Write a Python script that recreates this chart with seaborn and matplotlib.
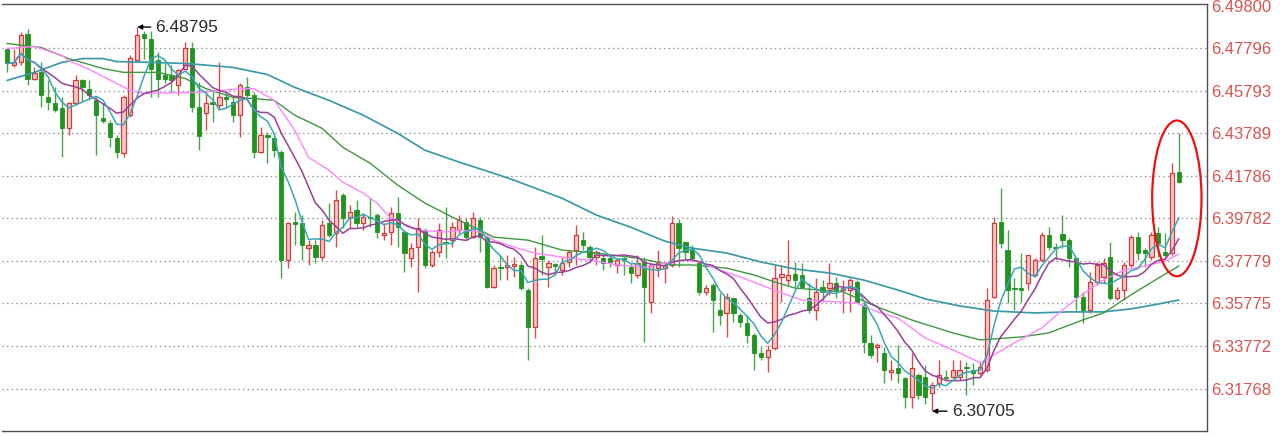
import numpy as np
import pandas as pd
import matplotlib
matplotlib.use("Agg")
import matplotlib.pyplot as plt
from matplotlib.patches import Ellipse
import seaborn as sns

# ---------------- data ----------------
opens = [
    6.4778, 6.4699, 6.4713, 6.4849, 6.4637, 6.4666, 6.4548, 6.4520, 6.4496, 6.4402,
    6.4520, 6.4628, 6.4590, 6.4534, 6.4449, 6.4426, 6.4355, 6.4285, 6.4464, 6.4722,
    6.4849, 6.4825, 6.4722, 6.4652, 6.4652, 6.4605, 6.4684, 6.4783, 6.4501, 6.4473,
    6.4525, 6.4511, 6.4548, 6.4525, 6.4464, 6.4595, 6.4558, 6.4290, 6.4370, 6.4355,
    6.4290, 6.3782, 6.3961, 6.3956, 6.3838, 6.3853, 6.3796, 6.3956, 6.3909, 6.4088,
    6.3984, 6.4017, 6.3956, 6.3984, 6.3994, 6.3900, 6.3914, 6.4003, 6.3914, 6.3791,
    6.3843, 6.3923, 6.3759, 6.3820, 6.3867, 6.3876, 6.3923, 6.3961, 6.3890, 6.3970,
    6.3890, 6.3655, 6.3749, 6.3749, 6.3754, 6.3759, 6.3641, 6.3467, 6.3801, 6.3749,
    6.3763, 6.3735, 6.3773, 6.3829, 6.3876, 6.3843, 6.3796, 6.3791, 6.3791, 6.3759,
    6.3791, 6.3749, 6.3712, 6.3773, 6.3585, 6.3744, 6.3744, 6.3759, 6.3956, 6.3867,
    6.3834, 6.3768, 6.3632, 6.3665, 6.3547, 6.3533, 6.3603, 6.3524, 6.3486, 6.3430,
    6.3345, 6.3326, 6.3368, 6.3702, 6.3688, 6.3716, 6.3712, 6.3603, 6.3547, 6.3655,
    6.3650, 6.3674, 6.3641, 6.3641, 6.3679, 6.3571, 6.3392, 6.3373, 6.3345, 6.3256,
    6.3274, 6.3227, 6.3138, 6.3242, 6.3232, 6.3157, 6.3204, 6.3232, 6.3232, 6.3232,
    6.3279, 6.3265, 6.3251, 6.3265, 6.3608, 6.3961, 6.3829, 6.3650, 6.3650, 6.3674,
    6.3712, 6.3782, 6.3900, 6.3843, 6.3904, 6.3876, 6.3791, 6.3608, 6.3547, 6.3679,
    6.3702, 6.3796, 6.3603, 6.3641, 6.3759, 6.3890, 6.3829, 6.3796, 6.3909, 6.3820,
    6.3815, 6.4196,
]
highs = [
    6.4783, 6.4778, 6.4858, 6.4872, 6.4689, 6.4713, 6.4628, 6.4595, 6.4548, 6.4525,
    6.4652, 6.4637, 6.4628, 6.4548, 6.4520, 6.4440, 6.4370, 6.4558, 6.4746, 6.48795,
    6.4862, 6.4860, 6.4760, 6.4708, 6.4699, 6.4684, 6.4807, 6.4807, 6.4619, 6.4581,
    6.4581, 6.4713, 6.4572, 6.4548, 6.4614, 6.4642, 6.4572, 6.4407, 6.4384, 6.4370,
    6.4299, 6.3961, 6.4008, 6.3994, 6.3876, 6.3876, 6.3970, 6.4050, 6.4111, 6.4097,
    6.4041, 6.4064, 6.4003, 6.4073, 6.4003, 6.3956, 6.4031, 6.4078, 6.3923, 6.3862,
    6.3979, 6.3932, 6.3829, 6.3956, 6.4031, 6.3961, 6.3994, 6.3979, 6.4008, 6.3984,
    6.3900, 6.3759, 6.3806, 6.3806, 6.3796, 6.3773, 6.3650, 6.3843, 6.3900, 6.3782,
    6.3768, 6.3796, 6.3829, 6.3947, 6.3914, 6.3853, 6.3829, 6.3815, 6.3806, 6.3791,
    6.3796, 6.3768, 6.3806, 6.3796, 6.3768, 6.3829, 6.3773, 6.3989, 6.3975, 6.3870,
    6.3853, 6.3773, 6.3665, 6.3674, 6.3627, 6.3627, 6.3608, 6.3533, 6.3524, 6.3439,
    6.3373, 6.3383, 6.3759, 6.3759, 6.3876, 6.3773, 6.3768, 6.3674, 6.3697, 6.3688,
    6.3768, 6.3702, 6.3688, 6.3697, 6.3688, 6.3580, 6.3430, 6.3392, 6.3373, 6.3312,
    6.3383, 6.3232, 6.3345, 6.3251, 6.3289, 6.3209, 6.3312, 6.3265, 6.3312, 6.3312,
    6.3303, 6.3298, 6.3303, 6.3650, 6.3984, 6.4120, 6.3923, 6.3697, 6.3815, 6.3808,
    6.3791, 6.3914, 6.3937, 6.3862, 6.3994, 6.3885, 6.3796, 6.3632, 6.3726, 6.3773,
    6.3791, 6.3867, 6.3655, 6.3773, 6.3900, 6.3914, 6.3838, 6.3914, 6.3937, 6.3909,
    6.4238, 6.4379,
]
lows = [
    6.4666, 6.4689, 6.4703, 6.4605, 6.4628, 6.4501, 6.4487, 6.4478, 6.4266, 6.4370,
    6.4511, 6.4525, 6.4534, 6.4276, 6.4426, 6.4313, 6.4261, 6.4266, 6.4454, 6.4718,
    6.4731, 6.4548, 6.4548, 6.4614, 6.4572, 6.4558, 6.4675, 6.4478, 6.4299, 6.4393,
    6.4431, 6.4487, 6.4496, 6.4431, 6.4360, 6.4548, 6.4261, 6.4285, 6.4238, 6.4266,
    6.3697, 6.3744, 6.3853, 6.3782, 6.3759, 6.3768, 6.3782, 6.3890, 6.3843, 6.3932,
    6.3932, 6.3937, 6.3923, 6.3937, 6.3885, 6.3876, 6.3853, 6.3843, 6.3726, 6.3749,
    6.3632, 6.3744, 6.3749, 6.3796, 6.3791, 6.3843, 6.3909, 6.3876, 6.3885, 6.3820,
    6.3650, 6.3650, 6.3688, 6.3688, 6.3702, 6.3641, 6.3312, 6.3415, 6.3712, 6.3655,
    6.3712, 6.3712, 6.3749, 6.3759, 6.3829, 6.3773, 6.3759, 6.3735, 6.3749, 6.3721,
    6.3712, 6.3674, 6.3697, 6.3397, 6.3533, 6.3702, 6.3674, 6.3749, 6.3749, 6.3782,
    6.3782, 6.3618, 6.3618, 6.3444, 6.3477, 6.3420, 6.3491, 6.3467, 6.3392, 6.3265,
    6.3312, 6.3256, 6.3359, 6.3585, 6.3665, 6.3655, 6.3650, 6.3533, 6.3500, 6.3585,
    6.3618, 6.3603, 6.3533, 6.3538, 6.3580, 6.3345, 6.3321, 6.3303, 6.3204, 6.3218,
    6.3204, 6.3087, 6.3087, 6.3129, 6.3106, 6.30705, 6.3185, 6.3218, 6.3227, 6.3218,
    6.3148, 6.3195, 6.3242, 6.3256, 6.3604, 6.3838, 6.3580, 6.3547, 6.3585, 6.3641,
    6.3702, 6.3773, 6.3829, 6.3782, 6.3838, 6.3749, 6.3547, 6.3486, 6.3533, 6.3665,
    6.3674, 6.3594, 6.3594, 6.3594, 6.3749, 6.3782, 6.3749, 6.3782, 6.3796, 6.3796,
    6.3806, 6.4147,
]
closes = [
    6.4708, 6.4713, 6.4844, 6.4637, 6.4661, 6.4558, 6.4525, 6.4487, 6.4402, 6.4520,
    6.4628, 6.4595, 6.4558, 6.4464, 6.4435, 6.4360, 6.4290, 6.4548, 6.4736, 6.4840,
    6.4830, 6.4684, 6.4637, 6.4637, 6.4628, 6.4675, 6.4783, 6.4501, 6.4365, 6.4520,
    6.4515, 6.4548, 6.4539, 6.4464, 6.4605, 6.4558, 6.4290, 6.4370, 6.4360, 6.4299,
    6.3782, 6.3956, 6.3951, 6.3853, 6.3853, 6.3796, 6.3947, 6.3900, 6.4064, 6.3979,
    6.4008, 6.3956, 6.3984, 6.3979, 6.3914, 6.3909, 6.4003, 6.3937, 6.3815, 6.3838,
    6.3932, 6.3759, 6.3820, 6.3923, 6.3862, 6.3937, 6.3970, 6.3890, 6.3979, 6.3890,
    6.3655, 6.3744, 6.3744, 6.3759, 6.3763, 6.3650, 6.3467, 6.3791, 6.3787, 6.3768,
    6.3754, 6.3768, 6.3820, 6.3900, 6.3853, 6.3796, 6.3820, 6.3768, 6.3773, 6.3782,
    6.3782, 6.3721, 6.3768, 6.3655, 6.3759, 6.3768, 6.3759, 6.3956, 6.3838, 6.3820,
    6.3791, 6.3632, 6.3650, 6.3594, 6.3524, 6.3608, 6.3533, 6.3491, 6.3430, 6.3345,
    6.3326, 6.3359, 6.3697, 6.3716, 6.3712, 6.3688, 6.3655, 6.3547, 6.3632, 6.3632,
    6.3674, 6.3641, 6.3650, 6.3688, 6.3585, 6.3397, 6.3336, 6.3383, 6.3265, 6.3265,
    6.3251, 6.3138, 6.3274, 6.3148, 6.3138, 6.3195, 6.3242, 6.3227, 6.3265, 6.3265,
    6.3274, 6.3251, 6.3279, 6.3594, 6.3956, 6.3862, 6.3641, 6.3646, 6.3641, 6.3806,
    6.3782, 6.3900, 6.3843, 6.3838, 6.3876, 6.3791, 6.3608, 6.3547, 6.3679, 6.3759,
    6.3768, 6.3603, 6.3641, 6.3759, 6.3890, 6.3815, 6.3815, 6.3900, 6.3862, 6.3806,
    6.4191, 6.4149,
]

# slower moving averages (candle index, value)
ma20_idx = [0, 4, 8, 9, 12, 16, 18, 20, 28, 33, 36, 39, 42, 44, 47, 49, 52, 54, 56,
            60, 64, 66, 69, 71, 74, 77, 81, 86, 89, 93, 96, 99, 101, 104, 107, 110,
            113, 116, 124, 127, 130, 132, 134, 137, 139, 142, 147, 151, 154, 157,
            160, 163, 166, 169, 171]
ma20_val = [6.4778, 6.4788, 6.4746, 6.4722, 6.4680, 6.4614, 6.4581, 6.4567, 6.4572,
            6.4586, 6.4590, 6.4534, 6.4393, 6.4266, 6.4205, 6.4149, 6.4097, 6.4050,
            6.3979, 6.3923, 6.3914, 6.3923, 6.3914, 6.3876, 6.3843, 6.3815, 6.3796,
            6.3777, 6.3759, 6.3749, 6.3768, 6.3782, 6.3773, 6.3735, 6.3702, 6.3665,
            6.3627, 6.3594, 6.3580, 6.3538, 6.3509, 6.3462, 6.3415, 6.3373, 6.3345,
            6.3298, 6.3392, 6.3462, 6.3547, 6.3622, 6.3688, 6.3735, 6.3754, 6.3777,
            6.3810]
ma30_idx = [0, 5, 9, 14, 17, 22, 26, 29, 33, 36, 39, 42, 46, 49, 53, 57, 61, 65, 69,
            71, 76, 81, 86, 92, 97, 100, 105, 109, 112, 115, 122, 127, 132, 138, 142,
            148, 152, 157, 160, 164, 168, 171]
ma30_val = [6.4802, 6.4783, 6.4731, 6.4684, 6.4666, 6.4666, 6.4637, 6.4590, 6.4548,
            6.4543, 6.4534, 6.4464, 6.4402, 6.4313, 6.4238, 6.4135, 6.4050, 6.3984,
            6.3923, 6.3890, 6.3876, 6.3829, 6.3815, 6.3791, 6.3759, 6.3759, 6.3744,
            6.3712, 6.3679, 6.3650, 6.3632, 6.3561, 6.3500, 6.3439, 6.3406, 6.3420,
            6.3439, 6.3500, 6.3533, 6.3618, 6.3697, 6.3754]
ma60_idx = [0, 4, 8, 11, 14, 16, 21, 26, 28, 33, 38, 42, 47, 52, 57, 61, 66, 71, 74,
            81, 86, 91, 96, 100, 105, 110, 115, 120, 125, 130, 134, 139, 144, 150,
            155, 160, 164, 168, 171]
ma60_val = [6.4628, 6.4666, 6.4713, 6.4731, 6.4731, 6.4717, 6.4713, 6.4708, 6.4703,
            6.4689, 6.4656, 6.4595, 6.4534, 6.4464, 6.4379, 6.4299, 6.4243, 6.4191,
            6.4158, 6.4073, 6.3994, 6.3937, 6.3871, 6.3838, 6.3815, 6.3773, 6.3740,
            6.3721, 6.3688, 6.3641, 6.3599, 6.3566, 6.3542, 6.3533, 6.3538, 6.3538,
            6.3552, 6.3575, 6.3594]

tick_vals = [6.49800, 6.47796, 6.45793, 6.43789, 6.41786,
             6.39782, 6.37779, 6.35775, 6.33772, 6.31768]
high_label = "6.48795"
low_label = "6.30705"

# ---------------- style ----------------
sns.set_theme(style="white")
plt.rcParams["font.family"] = ["Liberation Sans", "DejaVu Sans"]

RED_EDGE = "#d43a3a"
RED_FILL = "#f6c8c8"
RED_WICK = "#d94a4a"
GREEN_BODY = "#1f941f"
GREEN_WICK = "#45a845"
TICK_RED = "#d9534f"

df = pd.DataFrame({"idx": np.arange(len(closes)), "open": opens, "high": highs,
                   "low": lows, "close": closes})
df["ma5"] = df["close"].rolling(5, min_periods=1).mean()
df["ma10"] = df["close"].rolling(10, min_periods=1).mean()
up = (df["close"] >= df["open"]).to_numpy()
x = df["idx"].to_numpy()
o = df["open"].to_numpy(); c = df["close"].to_numpy()
h = df["high"].to_numpy(); l = df["low"].to_numpy()
body_lo = np.minimum(o, c)
body_h = np.maximum(np.abs(c - o), 0.00028)

fig = plt.figure(figsize=(12.8, 4.36), dpi=100)
ax = fig.add_axes([2 / 1280, 5 / 436, 1205 / 1280, 427 / 436])

for v in tick_vals[1:]:
    ax.axhline(v, color="#8c8c8c", lw=0.9, ls=(0, (1.1, 2.6)), zorder=0)

ax.vlines(x[up], l[up], h[up], color=RED_WICK, lw=1.0, zorder=2)
ax.vlines(x[~up], l[~up], h[~up], color=GREEN_WICK, lw=1.0, zorder=2)
ax.bar(x[up], body_h[up], bottom=body_lo[up], width=0.62, facecolor=RED_FILL,
       edgecolor=RED_EDGE, linewidth=0.9, zorder=3)
ax.bar(x[~up], body_h[~up], bottom=body_lo[~up], width=0.62, facecolor=GREEN_BODY,
       edgecolor=GREEN_BODY, linewidth=0.6, zorder=3)

sns.lineplot(x=ma60_idx, y=ma60_val, ax=ax, color="#3b9aa7", linewidth=1.25, zorder=4)
sns.lineplot(x=ma30_idx, y=ma30_val, ax=ax, color="#3f983f", linewidth=1.0, zorder=4)
sns.lineplot(x=ma20_idx, y=ma20_val, ax=ax, color="#ff85ff", linewidth=1.0, zorder=4)
sns.lineplot(data=df, x="idx", y="ma10", ax=ax, color="#9a3f9a", linewidth=1.1, zorder=5)
sns.lineplot(data=df, x="idx", y="ma5", ax=ax, color="#3aa6b6", linewidth=1.1, zorder=5)

# extreme annotations
hi_i = int(np.argmax(h)); lo_i = int(np.argmin(l))
ax.annotate(high_label, xy=(hi_i, h[hi_i]), xytext=(13, 0), textcoords="offset points",
            ha="left", va="center", fontsize=12.5, color="#2a2a2a",
            arrowprops=dict(arrowstyle="-|>", color="black", lw=1.0,
                            mutation_scale=7, shrinkA=1, shrinkB=0), zorder=6)
ax.annotate(low_label, xy=(lo_i, l[lo_i]), xytext=(14, 0), textcoords="offset points",
            ha="left", va="center", fontsize=12.5, color="#2a2a2a",
            arrowprops=dict(arrowstyle="-|>", color="black", lw=1.0,
                            mutation_scale=7, shrinkA=1, shrinkB=0), zorder=6)

# red highlight ellipse around the last two candles
last_hi = max(highs[-2:]); last_lo = min(lows[-2:])
ell = Ellipse((len(closes) - 1.3, (last_hi + last_lo) / 2 - 0.0020), width=7.2,
              height=(last_hi - last_lo) * 1.28, fill=False, edgecolor="#ee1111",
              linewidth=1.6, zorder=7)
ax.add_patch(ell)

ax.set_xlim(-0.73, 175.1)
ax.set_ylim(6.2977, 6.4988)
ax.set_xticks([])
ax.yaxis.tick_right()
ax.set_yticks(tick_vals)
ax.set_yticklabels([f"{v:.5f}" for v in tick_vals])
ax.tick_params(axis="y", length=0, pad=3, labelsize=12, labelcolor=TICK_RED)
ax.set_xlabel("")
ax.set_ylabel("")
for side in ["top", "right", "bottom"]:
    ax.spines[side].set_visible(True)
    ax.spines[side].set_color("#505050")
    ax.spines[side].set_linewidth(1.0)
ax.spines["left"].set_visible(False)

fig.savefig("out.png", dpi=100)
